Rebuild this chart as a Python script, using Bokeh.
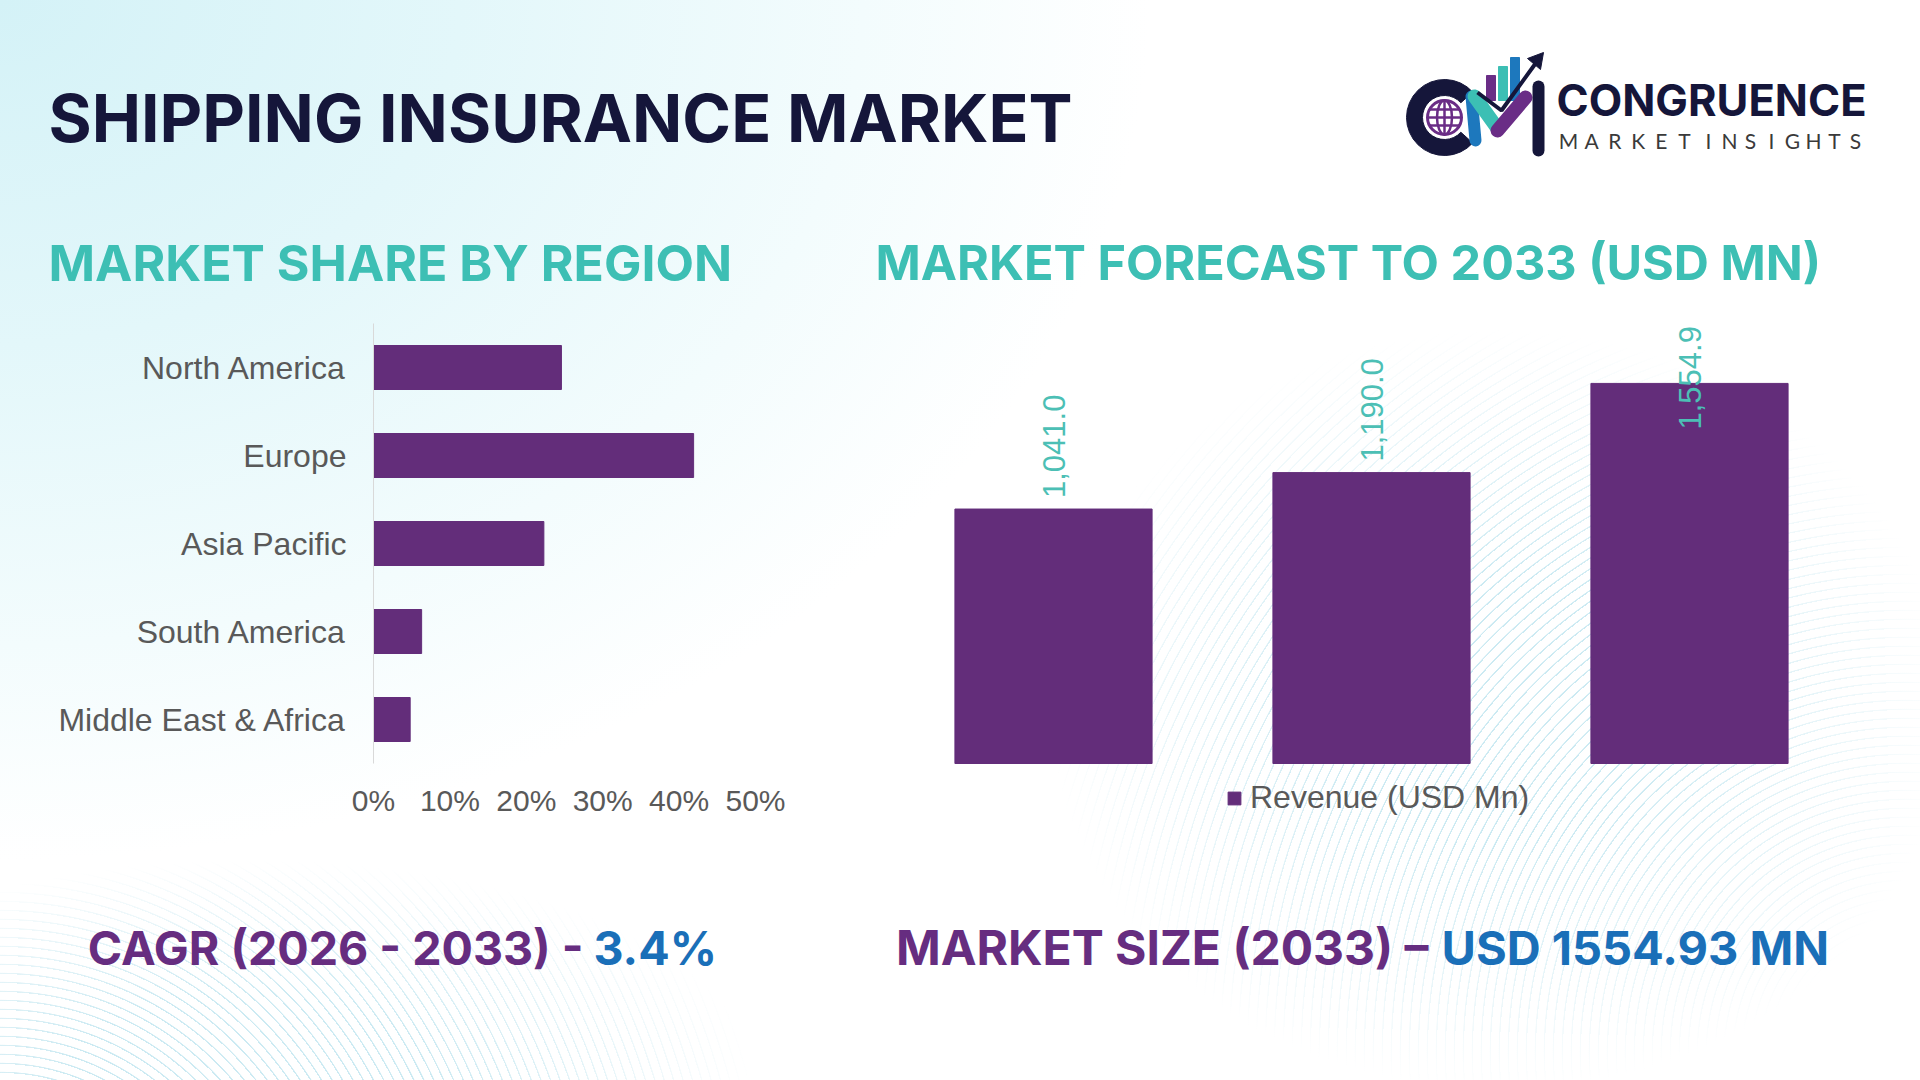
import math

from bokeh.core.properties import value
from bokeh.embed import file_html
from bokeh.layouts import column, row
from bokeh.models import (ColumnDataSource, FactorRange, FixedTicker, Legend,
                          LegendItem, Range1d)
from bokeh.plotting import figure
from bokeh.resources import INLINE

# ---------------------------------------------------------------- texts
TITLE = "SHIPPING INSURANCE MARKET"
SHARE_TITLE = "MARKET SHARE BY REGION"
FORECAST_TITLE = "MARKET FORECAST TO 2033 (USD MN)"
BRAND = "CONGRUENCE"
BRAND_SUB_1 = "MARKET"
BRAND_SUB_2 = "INSIGHTS"

# ---------------------------------------------------------------- data
regions = ["North America", "Europe", "Asia Pacific", "South America",
           "Middle East & Africa"]
region_share = [24.6, 41.9, 22.3, 6.3, 4.8]          # % of market
share_ticks = [0, 10, 20, 30, 40, 50]

years = ["2025", "2026", "2033"]
revenue = [1041.0, 1190.0, 1554.9]                   # USD Mn
series_name = "Revenue (USD Mn)"

cagr_label = "CAGR (2026 - 2033) -"
cagr_value = "3.4%"
size_label = "MARKET SIZE (2033) \u2013"
size_value = "USD 1554.93 MN"

# ---------------------------------------------------------------- styles
BAR = "#632d7a"
TEAL = "#3dbfb4"
NAVY = "#15163a"
PURPLE_TXT = "#662d80"
BLUE_TXT = "#1a6fb8"
AXIS_TXT = "#595959"
HEAD_FONT = value("Inter")
BODY_FONT = "Liberation Sans"

# both chart panels use the same top border so the row lines up
TOP, FRAME_H, BOTTOM = 23, 440, 97


def blank(width, height, y0, y1):
    """Transparent canvas using page pixel coordinates (y grows downward)."""
    p = figure(frame_width=width, frame_height=height, title=None,
               x_range=Range1d(0, width), y_range=Range1d(y1, y0),
               x_axis_type=None, y_axis_type=None, toolbar_location=None,
               output_backend="svg", min_border=0, outline_line_color=None)
    p.background_fill_alpha = 0
    p.border_fill_alpha = 0
    return p


# ---------------------------------------------------------------- header
head = blank(1920, 300, 0, 300)
head.text(x=[48], y=[117], text=[TITLE], text_font=HEAD_FONT,
          text_font_style="bold", text_font_size="66px", text_color=NAVY,
          text_align="left", text_baseline="middle")
head.text(x=[48], y=[262], text=[SHARE_TITLE], text_font=HEAD_FONT,
          text_font_style="bold", text_font_size="50px", text_color=TEAL,
          text_align="left", text_baseline="middle")
head.text(x=[875], y=[262], text=[FORECAST_TITLE], text_font=HEAD_FONT,
          text_font_style="bold", text_font_size="48.6px", text_color=TEAL,
          text_align="left", text_baseline="middle")

# logo mark: "C" ring with globe, rising bars, "M" strokes and arrow
GLOBE = "#6a2d86"
cx, cy = 1444, 117
head.annular_wedge(x=cx, y=cy, inner_radius=22, outer_radius=38,
                   start_angle=math.radians(42), end_angle=math.radians(318),
                   color=NAVY)
head.circle(x=cx, y=cy, radius=17, fill_color="white", line_color=GLOBE,
            line_width=3)
head.ellipse(x=cx, y=cy, width=15, height=34, fill_color=None,
             line_color=GLOBE, line_width=2.5)
head.segment(x0=[cx], y0=[cy - 17], x1=[cx], y1=[cy + 17], line_color=GLOBE,
             line_width=2.5)
for dy in (-8, 0, 8):
    hw = math.sqrt(17 ** 2 - dy ** 2)
    head.segment(x0=[cx - hw], y0=[cy + dy], x1=[cx + hw], y1=[cy + dy],
                 line_color=GLOBE, line_width=2.5)
head.quad(left=[1486, 1498, 1510], right=[1495, 1507, 1519],
          top=[75, 66, 57], bottom=[100, 100, 100],
          color=["#6a2d86", "#3cbfb4", "#1d78bd"])
head.segment(x0=[1471], y0=[96], x1=[1475], y1=[140], line_color="#1d78bd",
             line_width=12, line_cap="round")
head.segment(x0=[1474], y0=[96], x1=[1497], y1=[128], line_color="#3cbfb4",
             line_width=14, line_cap="round")
head.segment(x0=[1497], y0=[130], x1=[1525], y1=[97], line_color="#6a2d86",
             line_width=14, line_cap="round")
head.segment(x0=[1538], y0=[86], x1=[1538], y1=[150], line_color=NAVY,
             line_width=12, line_cap="round")
head.line(x=[1477, 1501, 1535], y=[92, 110, 63], line_color=NAVY,
          line_width=4)
head.patch(x=[1543, 1527, 1540], y=[52, 58, 69], color=NAVY)

head.text(x=[1556], y=[99], text=[BRAND], text_font=HEAD_FONT,
          text_font_style="bold", text_font_size="43.5px", text_color=NAVY,
          text_align="left", text_baseline="middle")
# tracked-out tagline, one letter at a time
sub_chars = list(BRAND_SUB_1) + list(BRAND_SUB_2)
sub_x = ([1568 + i * 23.2 for i in range(len(BRAND_SUB_1))] +
         [1708 + j * 21.0 for j in range(len(BRAND_SUB_2))])
head.text(x=sub_x, y=[140] * len(sub_chars), text=sub_chars,
          text_font=value("Lato"), text_font_size="21px",
          text_color="#3a3a3a", text_align="center", text_baseline="middle")

# ---------------------------------------------------------------- left chart
left = figure(frame_width=382, frame_height=FRAME_H, title=None,
              y_range=FactorRange(factors=regions[::-1]),
              x_range=Range1d(0, 50), toolbar_location=None,
              output_backend="svg", min_border_left=373,
              min_border_right=105, min_border_top=TOP,
              min_border_bottom=BOTTOM, outline_line_color=None)
left.background_fill_alpha = 0
left.border_fill_alpha = 0
left.hbar(y=regions, right=region_share, height=0.5, color=BAR)
left.grid.grid_line_color = None

xa = left.xaxis[0]
xa.ticker = FixedTicker(ticks=share_ticks)
xa.major_label_overrides = {t: f"{t}%" for t in share_ticks}
xa.axis_line_color = None
xa.major_tick_line_color = None
xa.minor_tick_line_color = None
xa.major_tick_out = 0
xa.major_label_standoff = 20
xa.major_label_text_font = BODY_FONT
xa.major_label_text_font_size = "30px"
xa.major_label_text_color = AXIS_TXT

ya = left.yaxis[0]
ya.axis_line_color = "#d9d9d9"
ya.axis_line_width = 1
ya.major_tick_line_color = None
ya.minor_tick_line_color = None
ya.major_tick_out = 0
ya.major_label_standoff = 27
ya.major_label_text_font = BODY_FONT
ya.major_label_text_font_size = "32px"
ya.major_label_text_color = AXIS_TXT

# ---------------------------------------------------------------- right chart
# the plot area runs down through the legend strip below the bars, so the
# value axis starts below zero by the height of that strip
Y_MAX = 1800
px_per_unit = FRAME_H / Y_MAX
Y_MIN = -BOTTOM / px_per_unit
right = figure(frame_width=954, frame_height=FRAME_H + BOTTOM, title=None,
               x_range=FactorRange(factors=years),
               y_range=Range1d(Y_MIN, Y_MAX), toolbar_location=None,
               output_backend="svg", x_axis_location=None,
               y_axis_location=None, min_border_left=34, min_border_right=72,
               min_border_top=TOP, min_border_bottom=0,
               outline_line_color=None)
right.background_fill_alpha = 0
right.border_fill_alpha = 0
right.grid.grid_line_color = None

# value labels sit above each bar; one that would run past the top of the
# plot area is pulled down so that its end meets that top edge
label_len, gap = 106, 11
offsets = []
for v in revenue:
    room = (Y_MAX - v) * px_per_unit
    offsets.append(-gap if room >= label_len + gap else label_len - room)

src = ColumnDataSource(dict(year=years, rev=revenue,
                            label=[f"{v:,.1f}" for v in revenue],
                            yoff=offsets))
bars = right.vbar(x="year", bottom=0, top="rev", width=0.62, source=src,
                  color=BAR)
right.text(x="year", y="rev", text="label", y_offset="yoff", source=src,
           angle=math.pi / 2, text_align="left", text_baseline="middle",
           text_font=value(BODY_FONT), text_font_size="31px",
           text_color="#4cbfb5")

legend = Legend(items=[LegendItem(label=series_name, renderers=[bars])],
                location=(332, 44), orientation="horizontal",
                glyph_width=16, glyph_height=16, label_standoff=8,
                label_text_font=BODY_FONT, label_text_font_size="32px",
                label_text_color=AXIS_TXT, padding=0, margin=0,
                border_line_color=None, background_fill_alpha=0)
right.add_layout(legend)

# ---------------------------------------------------------------- footer
foot = blank(1920, 220, 860, 1080)
foot.text(x=[583], y=[947], text=[cagr_label], text_font=HEAD_FONT,
          text_font_style="bold", text_font_size="46.6px",
          text_color=PURPLE_TXT, text_align="right", text_baseline="middle")
foot.text(x=[593], y=[947], text=[cagr_value], text_font=HEAD_FONT,
          text_font_style="bold", text_font_size="46.6px",
          text_color=BLUE_TXT, text_align="left", text_baseline="middle")
foot.text(x=[1428], y=[947], text=[size_label], text_font=HEAD_FONT,
          text_font_style="bold", text_font_size="48px",
          text_color=PURPLE_TXT, text_align="right", text_baseline="middle")
foot.text(x=[1441], y=[947], text=[size_value], text_font=HEAD_FONT,
          text_font_style="bold", text_font_size="47px", text_color=BLUE_TXT,
          text_align="left", text_baseline="middle")

# ---------------------------------------------------------------- page
rings = ("repeating-radial-gradient(circle at {cx} {cy}, "
         "rgba(120,200,222,0.38) 0px, rgba(120,200,222,0.38) 1px, "
         "rgba(255,255,255,0) 1.6px, rgba(255,255,255,0) 9px)")
fade = ("radial-gradient(ellipse closest-side at 50% 50%, "
        "rgba(255,255,255,0) 35%, #ffffff 100%)")
background = ", ".join([
    fade + " 1050px 330px / 900px 760px no-repeat",
    rings.format(cx="95%", cy="95%") + " 1050px 330px / 900px 760px no-repeat",
    fade + " -250px 860px / 1000px 420px no-repeat",
    rings.format(cx="25%", cy="100%") + " -250px 860px / 1000px 420px no-repeat",
    "radial-gradient(ellipse 1150px 860px at 0px 0px, "
    "#d4f2f7 0%, #e3f7fa 40%, #f3fcfd 75%, #ffffff 100%)",
])

page = column(head, row(left, right), foot,
              styles={"background": background})

with open("out.html", "w") as fh:
    fh.write(file_html(page, INLINE, title=TITLE))
